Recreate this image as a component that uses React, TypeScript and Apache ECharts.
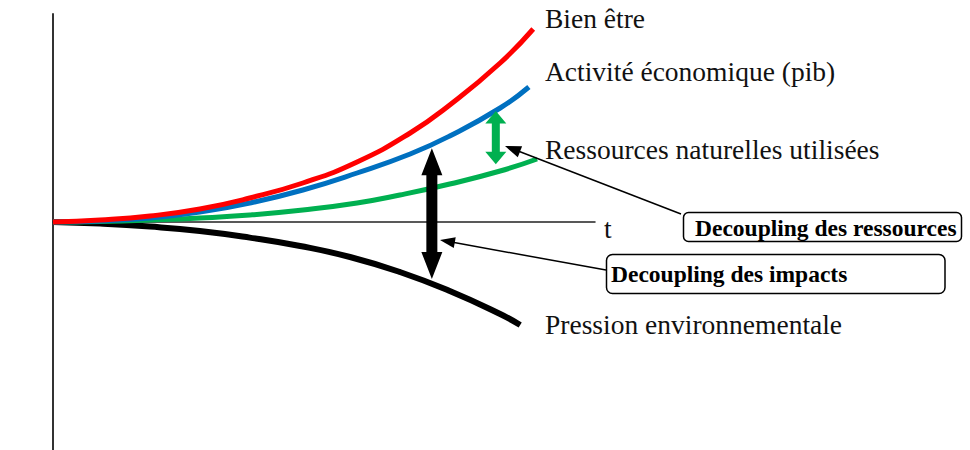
import React, { useEffect, useRef } from "react";
import * as echarts from "echarts";

// Curves: [t, level]
const bienEtre: [number, number][] = [
  [0, 0], [0.87, 0.1], [1.79, 0.3], [2.71, 0.65], [3.63, 1.2], [4.61, 1.95],
  [5.61, 3.0], [6.59, 4.45], [7.32, 5.85], [8.25, 7.95], [8.86, 9.65],
];
const activite: [number, number][] = [
  [0, 0], [0.87, 0.05], [1.79, 0.2], [2.71, 0.5], [3.63, 0.95], [4.61, 1.6],
  [5.61, 2.45], [6.59, 3.4], [7.32, 4.3], [8.25, 5.7], [8.78, 6.75],
];
const ressources: [number, number][] = [
  [0, 0], [0.87, 0.03], [1.79, 0.1], [2.71, 0.2], [3.63, 0.35], [4.61, 0.6],
  [5.61, 0.95], [6.4, 1.35], [7.32, 1.9], [8.25, 2.55], [8.93, 3.15],
];
const pression: [number, number][] = [
  [0, 0], [0.87, -0.08], [1.79, -0.23], [2.71, -0.45], [3.63, -0.78], [4.56, -1.2],
  [5.48, -1.75], [6.4, -2.5], [7.32, -3.45], [8.25, -4.6], [8.62, -5.15],
];

const seriesNames = [
  "Bien être",
  "Activité économique (pib)",
  "Ressources naturelles utilisées",
  "Pression environnementale",
];
const seriesColors = ["#FF0000", "#0070C0", "#00B050", "#000000"];

// Double arrows marking the gaps (t, top level, bottom level)
const impactGap = { t: 6.99, top: 3.69, bottom: -2.85 };
const resourceGap = { t: 8.17, top: 5.55, bottom: 2.89 };
// Leader arrow targets (data coords)
const resourceTarget: [number, number] = [8.34, 3.8];
const impactTarget: [number, number] = [7.14, -0.9];

const boxTexts = ["Decoupling des ressources", "Decoupling des impacts"];
const axisName = "t";

const SERIF = "Liberation Serif, Times New Roman, serif";

function doubleArrow(cx: number, yt: number, yb: number, h: number, W: number, s: number) {
  return [
    [cx, yt], [cx + W / 2, yt + h], [cx + s / 2, yt + h], [cx + s / 2, yb - h],
    [cx + W / 2, yb - h], [cx, yb], [cx - W / 2, yb - h], [cx - s / 2, yb - h],
    [cx - s / 2, yt + h], [cx - W / 2, yt + h],
  ];
}

function leader(from: number[], tip: number[], len: number, w: number) {
  const dx = tip[0] - from[0];
  const dy = tip[1] - from[1];
  const L = Math.hypot(dx, dy);
  const ux = dx / L, uy = dy / L;
  const nx = -uy, ny = ux;
  const bx = tip[0] - ux * len, by = tip[1] - uy * len;
  return [
    {
      type: "line",
      shape: { x1: from[0], y1: from[1], x2: bx + ux * 2, y2: by + uy * 2 },
      style: { stroke: "#000", lineWidth: 1.5 },
      z: 20,
    },
    {
      type: "polygon",
      shape: { points: [tip, [bx + nx * w / 2, by + ny * w / 2], [bx - nx * w / 2, by - ny * w / 2]] },
      style: { fill: "#000" },
      z: 21,
    },
  ];
}

export default function App() {
  const ref = useRef<HTMLDivElement>(null);
  useEffect(() => {
    if (!ref.current) return;
    const chart = echarts.init(ref.current, null, { renderer: "svg" });
    const data = [bienEtre, activite, ressources, pression];
    chart.setOption({
      animation: false,
      grid: { left: 53, right: 375, top: 14, bottom: 0 },
      xAxis: {
        type: "value",
        min: 0,
        max: 10,
        axisLine: { show: true, onZero: true, lineStyle: { color: "#222", width: 1.5 } },
        axisTick: { show: false },
        axisLabel: { show: false },
        splitLine: { show: false },
      },
      yAxis: {
        type: "value",
        min: -11.4,
        max: 10.4,
        axisLine: { show: true, lineStyle: { color: "#333", width: 2 } },
        axisTick: { show: false },
        axisLabel: { show: false },
        splitLine: { show: false },
      },
      series: data.map((d, i) => ({
        name: seriesNames[i],
        type: "line",
        data: d,
        smooth: 0.5,
        showSymbol: false,
        lineStyle: { color: seriesColors[i], width: i === 3 ? 6 : 5 },
        z: 4 - i,
      })),
    });

    const px = (p: [number, number]) => chart.convertToPixel({ gridIndex: 0 }, p) as number[];
    const bTop = px([impactGap.t, impactGap.top]);
    const bBot = px([impactGap.t, impactGap.bottom]);
    const gTop = px([resourceGap.t, resourceGap.top]);
    const gBot = px([resourceGap.t, resourceGap.bottom]);
    const rTip = px(resourceTarget);
    const iTip = px(impactTarget);

    const labelStyle = (text: string, x: number, y: number) => ({
      type: "text",
      x,
      y,
      style: {
        text,
        fill: "#111",
        fontFamily: SERIF,
        fontSize: 27.5,
        align: "left",
        verticalAlign: "middle",
      },
      z: 30,
    });
    const boxText = (text: string, x: number, y: number) => ({
      type: "text",
      x,
      y,
      style: {
        text,
        fill: "#000",
        fontFamily: SERIF,
        fontSize: 23.5,
        fontWeight: "bold",
        align: "left",
        verticalAlign: "middle",
      },
      z: 31,
    });

    chart.setOption({
      graphic: [
        labelStyle(seriesNames[0], 545, 18),
        labelStyle(seriesNames[1], 545, 71),
        labelStyle(seriesNames[2], 545, 149),
        labelStyle(seriesNames[3], 545, 324),
        labelStyle(axisName, 604, 228),
        {
          type: "polygon",
          shape: { points: doubleArrow(bTop[0], bTop[1], bBot[1], 27, 21, 11) },
          style: { fill: "#000" },
          z: 15,
        },
        {
          type: "polygon",
          shape: { points: doubleArrow(gTop[0], gTop[1], gBot[1], 12.5, 21, 8) },
          style: { fill: "#00B050" },
          z: 15,
        },
        ...leader([681, 214], rTip, 16, 12),
        ...leader([606, 270], iTip, 15, 11),
        {
          type: "rect",
          shape: { x: 683.5, y: 212.5, width: 278, height: 29, r: 5 },
          style: { fill: "#fff", stroke: "#000", lineWidth: 1.5 },
          z: 25,
        },
        boxText(boxTexts[0], 695, 228),
        {
          type: "rect",
          shape: { x: 606.5, y: 254.5, width: 338.5, height: 39, r: 6 },
          style: { fill: "#fff", stroke: "#000", lineWidth: 1.5 },
          z: 25,
        },
        boxText(boxTexts[1], 611, 274),
      ],
    });

    return () => chart.dispose();
  }, []);
  return (
    <div
      ref={ref}
      style={{ position: "absolute", left: 0, top: 0, width: 970, height: 450, background: "#fff" }}
    />
  );
}
